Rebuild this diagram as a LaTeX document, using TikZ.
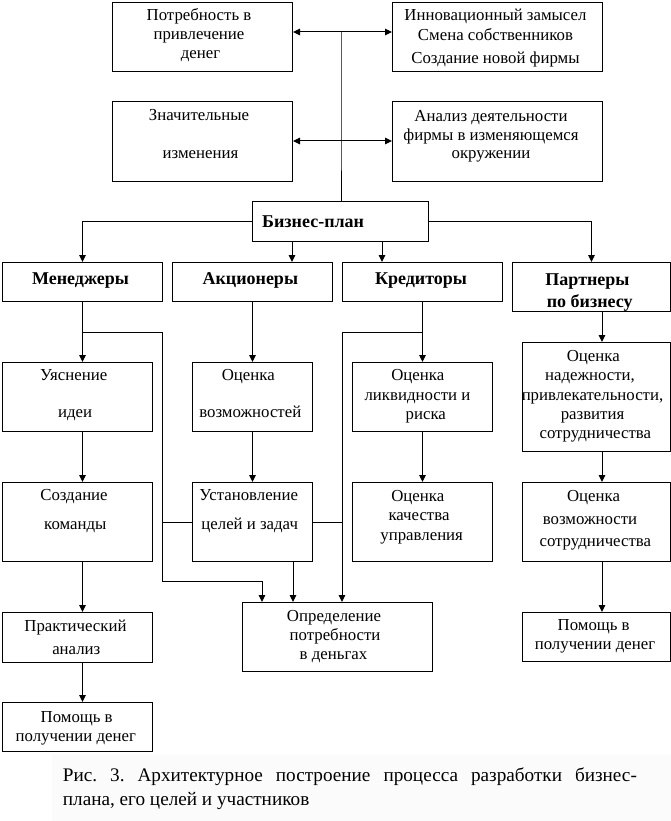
\documentclass[tikz,border=0pt]{standalone}
\usepackage{fontspec}
\setmainfont{Liberation Serif}
\usetikzlibrary{arrows.meta,calc}
\newcommand\fsz{\fontsize{16.8}{19}\selectfont}
\newcommand\fszb{\fontsize{18}{21}\selectfont\bfseries}
\newcommand\capfnt{\fontsize{19.2}{22}\selectfont}
\tikzset{
  box/.style={draw, line width=1pt, rectangle, inner sep=0pt, anchor=north west},
  txt/.style={font=\fsz, anchor=base, inner sep=0pt},
  btxt/.style={font=\fszb, anchor=base, inner sep=0pt},
  ln/.style={line width=1pt},
  arr/.style={line width=1pt, -{Triangle[length=7pt,width=6.5pt]}},
}
\begin{document}
\begin{tikzpicture}[x=1pt,y=-1pt]
\useasboundingbox (0,0) rectangle (671,821);
\fill[black!1.5] (52,755) rectangle (671,821);

% boxes
\node[box, minimum width=180pt, minimum height=69pt] (potr) at (112,2) {};
\node[box, minimum width=210pt, minimum height=69pt] (innov) at (392,2) {};
\node[box, minimum width=180pt, minimum height=80pt] (znach) at (112,101) {};
\node[box, minimum width=210pt, minimum height=80pt] (anal) at (392,101) {};
\node[box, minimum width=176pt, minimum height=40pt] (bp) at (252,201) {};
\node[box, minimum width=160pt, minimum height=39pt] (mgr) at (2,262) {};
\node[box, minimum width=160pt, minimum height=39pt] (akc) at (172,262) {};
\node[box, minimum width=160pt, minimum height=39pt] (kred) at (342,262) {};
\node[box, minimum width=158pt, minimum height=49pt] (part) at (512,262) {};
\node[box, minimum width=150pt, minimum height=69pt] (uyas) at (2,362) {};
\node[box, minimum width=120pt, minimum height=69pt] (ocv) at (192,362) {};
\node[box, minimum width=140pt, minimum height=69pt] (ocl) at (352,362) {};
\node[box, minimum width=148pt, minimum height=109pt] (ocn) at (522,342) {};
\node[box, minimum width=150pt, minimum height=79pt] (sozd) at (2,482) {};
\node[box, minimum width=120pt, minimum height=79pt] (ust) at (192,482) {};
\node[box, minimum width=140pt, minimum height=79pt] (ock) at (352,482) {};
\node[box, minimum width=148pt, minimum height=79pt] (ocs) at (522,482) {};
\node[box, minimum width=150pt, minimum height=50pt] (prak) at (2,612) {};
\node[box, minimum width=150pt, minimum height=49pt] (pom1) at (2,702) {};
\node[box, minimum width=190pt, minimum height=69pt] (opr) at (242,602) {};
\node[box, minimum width=148pt, minimum height=49pt] (pom2) at (522,612) {};

% texts
\node[txt] (potr1) at (199,21) {Потребность в};
\node[txt] (potr2) at (199,39.5) {привлечение};
\node[txt] (potr3) at (200.5,58.5) {денег};
\node[txt] (innov1) at (495.5,21) {Инновационный замысел};
\node[txt] (innov2) at (495.5,41) {Смена собственников};
\node[txt] (innov3) at (495.5,63.5) {Создание новой фирмы};
\node[txt] (znach1) at (199,121) {Значительные};
\node[txt] (znach2) at (200.5,158.5) {изменения};
\node[txt] (anal1) at (491,121.5) {Анализ деятельности};
\node[txt] (anal2) at (491,141) {фирмы в изменяющемся};
\node[txt] (anal3) at (491,158.5) {окружении};
\node[btxt, anchor=base west] (bp1) at (262,227) {Бизнес-план};
\node[btxt] (mgr1) at (80.5,284) {Менеджеры};
\node[btxt] (akc1) at (250.3,284) {Акционеры};
\node[btxt] (kred1) at (421,284) {Кредиторы};
\node[btxt] (part1) at (587.5,285) {Партнеры};
\node[btxt] (part2) at (589.7,307) {по бизнесу};
\node[txt] (uyas1) at (73.7,380.5) {Уяснение};
\node[txt] (uyas2) at (75.2,417) {идеи};
\node[txt] (ocv1) at (248.3,380.5) {Оценка};
\node[txt] (ocv2) at (250.3,417) {возможностей};
\node[txt] (sozd1) at (74,500.5) {Создание};
\node[txt] (sozd2) at (75.3,529) {команды};
\node[txt] (ust1) at (248.8,500.5) {Установление};
\node[txt] (ust2) at (249.7,529) {целей и задач};
\node[txt] (ocl1) at (417.8,380.5) {Оценка};
\node[txt] (ocl2) at (417.5,400) {ликвидности и};
\node[txt] (ocl3) at (425.8,419) {риска};
\node[txt] (ocn1) at (593.3,361) {Оценка};
\node[txt] (ocn2) at (590,380.5) {надежности,};
\node[txt] (ocn3) at (592.5,400) {привлекательности,};
\node[txt] (ocn4) at (592.5,419.5) {развития};
\node[txt] (ocn5) at (595.3,438.5) {сотрудничества};
\node[txt] (ock1) at (417.8,501) {Оценка};
\node[txt] (ock2) at (419,520.5) {качества};
\node[txt] (ock3) at (421.7,540) {управления};
\node[txt] (ocs1) at (593.5,501) {Оценка};
\node[txt] (ocs2) at (590,524.5) {возможности};
\node[txt] (ocs3) at (595.3,546) {сотрудничества};
\node[txt] (prak1) at (75.5,631) {Практический};
\node[txt] (prak2) at (76.3,654) {анализ};
\node[txt] (pom11) at (76.7,722) {Помощь в};
\node[txt] (pom12) at (75.8,741) {получении денег};
\node[txt] (opr1) at (334,621) {Определение};
\node[txt] (opr2) at (335,640.5) {потребности};
\node[txt] (opr3) at (333.5,659.5) {в деньгах};
\node[txt] (pom21) at (593.7,630) {Помощь в};
\node[txt] (pom22) at (595,649) {получении денег};

% caption
\node[anchor=base west, inner sep=0pt, font=\capfnt] (cap1) at (62.7,781.7)
  {\hbox to 574pt{Рис.\hfill 3.\hfill Архитектурное\hfill построение\hfill процесса\hfill разработки\hfill бизнес-}};
\node[anchor=base west, inner sep=0pt, font=\capfnt] (cap2) at (62.7,805) {плана, его целей и участников};

% top connectors
\coordinate (j1) at (341,32);
\coordinate (j2) at (341,141);
\draw[ln] (j1) -- (j2) -- (j2 |- bp.north);
\draw[arr] (j1) -- (j1 -| potr.east);
\draw[arr] (j1) -- (j1 -| innov.west);
\draw[arr] (j2) -- (j2 -| znach.east);
\draw[arr] (j2) -- (j2 -| anal.west);

% business plan to participants
\draw[arr] (bp.west) -| (mgr.north);
\draw[arr] (bp.east) -| (part.north);
\draw[arr] ([xshift=40pt]bp.south west) -- ([xshift=40pt]bp.south west |- akc.north);
\draw[arr] ([xshift=130pt]bp.south west) -- ([xshift=130pt]bp.south west |- kred.north);

% managers column
\coordinate (cL) at (162,581);
\draw[arr] (mgr.south) -- (mgr.south |- uyas.north);
\draw[arr] (mgr.south |- uyas.south) -- (mgr.south |- sozd.north);
\draw[arr] (mgr.south |- sozd.south) -- (mgr.south |- prak.north);
\draw[arr] (mgr.south |- prak.south) -- (mgr.south |- pom1.north);
\draw[arr] ($(mgr.south)+(0,30)$) -| (cL) -| ([xshift=20pt]opr.north west);
\draw[ln] ($(ocv.west)+(0,5)$) -- ($(ocv.west)+(0,5)$ -| cL);
\draw[ln] (ust.west) -- (ust.west -| cL);

% shareholders column
\draw[arr] (akc.south) -- (ocv.north);
\draw[arr] (ocv.south) -- (ust.north);
\draw[arr] ([xshift=-20pt]ust.south east) -- ([xshift=-20pt]ust.south east |- opr.north);

% creditors column
\coordinate (cR) at ([xshift=100pt]opr.north west);
\draw[arr] (kred.south) -- (ocl.north);
\draw[arr] (ocl.south) -- (ock.north);
\draw[arr] ($(kred.south)+(0,30)$) -| (cR);
\draw[ln] ($(ocv.east)+(0,5)$) -- ($(ocv.east)+(0,5)$ -| cR);
\draw[ln] (ust.east) -- (ust.east -| cR);

% partners column
\coordinate (cP) at ([xshift=80pt]ocn.north west);
\draw[arr] (cP |- part.south) -- (cP);
\draw[arr] (cP |- ocn.south) -- (cP |- ocs.north);
\draw[arr] (cP |- ocs.south) -- (cP |- pom2.north);
\end{tikzpicture}
\end{document}
